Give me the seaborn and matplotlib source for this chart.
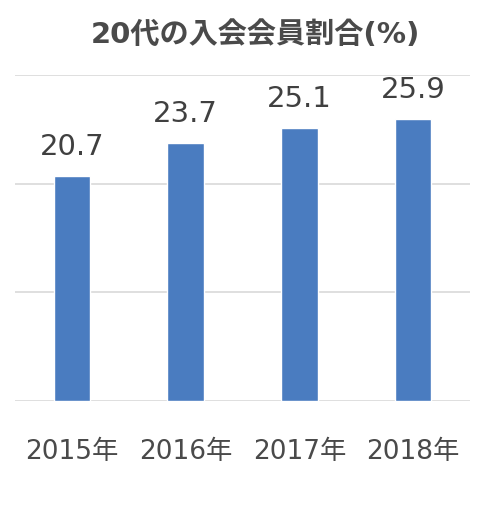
import pandas as pd
import seaborn as sns
import matplotlib.pyplot as plt

# データ
years = ['2015年', '2016年', '2017年', '2018年']
ratios = [20.7, 23.7, 25.1, 25.9]
title = '20代の入会会員割合(%)'

df = pd.DataFrame({'年': years, '割合': ratios})

sns.set_theme(style='white')
plt.rcParams['font.family'] = ['DejaVu Sans', 'Noto Sans CJK JP']

text_color = '#4a4a4a'
bar_color = '#4a7cc0'

fig = plt.figure(figsize=(5.0, 5.13), dpi=100)
ax = fig.add_axes([0.03, 0.218, 0.91, 0.636])

sns.barplot(data=df, x='年', y='割合', color=bar_color, width=0.32,
            saturation=1, ax=ax, zorder=3)

ax.set_ylim(0, 30)
ax.set_xlim(-0.5, 3.5)
ax.set_yticks([0, 10, 20, 30])
ax.yaxis.grid(True, color='#d9d9d9', linewidth=1.2, zorder=0)
ax.set_yticklabels([])
ax.tick_params(axis='y', length=0)
ax.tick_params(axis='x', length=0, pad=27, labelsize=19, labelcolor=text_color)
ax.set_xlabel('')
ax.set_ylabel('')
for s in ax.spines.values():
    s.set_visible(False)

# 数値ラベル
ax.bar_label(ax.containers[0], labels=[f'{v:.1f}' for v in ratios],
             padding=11, fontsize=21, color='#404040')

fig.text(0.51, 0.932, title, ha='center', va='center', fontsize=21,
         fontweight='bold', color=text_color)

fig.savefig('out.png', dpi=100, facecolor='white')
